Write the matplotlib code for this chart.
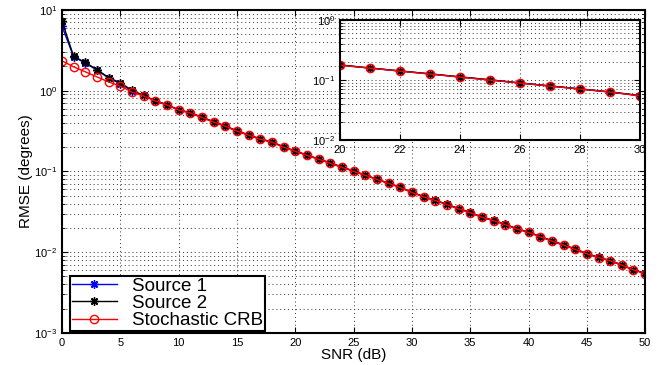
import matplotlib
matplotlib.use('Agg')
import matplotlib.pyplot as plt
import numpy as np

plt.rcParams['font.family'] = ['Liberation Sans', 'DejaVu Sans']

# data
snr = list(range(0, 51))
crb = [2.34, 1.97, 1.71, 1.48, 1.28, 1.14, 0.96, 0.859, 0.744, 0.664,
       0.575, 0.528, 0.466, 0.408, 0.363, 0.315, 0.281, 0.250, 0.230, 0.199,
       0.177, 0.158, 0.141, 0.126, 0.112, 0.100, 0.0892, 0.0795, 0.0709, 0.0632,
       0.0548, 0.0484, 0.0435, 0.0388, 0.0343, 0.0308, 0.0270, 0.0245, 0.0219, 0.0193,
       0.0175, 0.0155, 0.0137, 0.0122, 0.0108, 0.00953, 0.00857, 0.00780, 0.00689, 0.00602,
       0.00542]
source1 = [6.3, 2.63, 2.19, 1.80, 1.43, 1.22, 0.99, 0.87, 0.748, 0.668,
           0.578, 0.530, 0.468, 0.410, 0.364, 0.316, 0.282, 0.251, 0.231, 0.200,
           0.178, 0.159, 0.142, 0.127, 0.113, 0.101, 0.0895, 0.0798, 0.0712, 0.0635,
           0.0550, 0.0486, 0.0437, 0.0390, 0.0345, 0.0309, 0.0271, 0.0246, 0.0220, 0.0194,
           0.0176, 0.0156, 0.0138, 0.0123, 0.0109, 0.00957, 0.00860, 0.00783, 0.00691, 0.00604,
           0.00544]
source2 = [7.3, 2.66, 2.23, 1.82, 1.45, 1.25, 1.01, 0.87, 0.750, 0.667,
           0.580, 0.531, 0.469, 0.411, 0.365, 0.317, 0.283, 0.252, 0.232, 0.200,
           0.179, 0.159, 0.142, 0.127, 0.113, 0.101, 0.0898, 0.0800, 0.0713, 0.0636,
           0.0552, 0.0487, 0.0438, 0.0391, 0.0346, 0.0310, 0.0272, 0.0247, 0.0221, 0.0195,
           0.0177, 0.0156, 0.0138, 0.0123, 0.0109, 0.00960, 0.00862, 0.00785, 0.00693, 0.00605,
           0.00545]

# matlab style asterisk
STAR = (8, 2, 0)


def draw(ax):
    ax.semilogy(snr, source1, '-', marker=STAR, color='blue', lw=1.0, ms=6, mew=1.0,
                label='Source 1')
    ax.semilogy(snr, source2, '-', marker=STAR, color='black', lw=1.0, ms=6, mew=1.0,
                label='Source 2')
    ax.semilogy(snr, crb, '-o', color='red', lw=1.0, ms=6, mfc='none', mew=1.0,
                label='Stochastic CRB')
    ax.grid(True, which='both', linestyle=(0, (1, 3)), color='0.2', linewidth=0.7)
    ax.tick_params(which='both', direction='in', top=True, right=True, labelsize=8)
    ax.tick_params(which='major', length=4)
    ax.tick_params(which='minor', length=2)
    for sp in ax.spines.values():
        sp.set_linewidth(1.5)


fig = plt.figure(figsize=(6.59, 3.65), dpi=100)
ax = fig.add_axes([0.094, 0.088, 0.885, 0.885])
draw(ax)
ax.set_xlim(0, 50)
ax.set_ylim(1e-3, 1e1)
ax.set_xticks(range(0, 51, 5))
ax.set_xlabel('SNR (dB)', fontsize=11, labelpad=0)
ax.set_ylabel('RMSE (degrees)', fontsize=11, labelpad=1)
leg = ax.legend(loc='lower left', bbox_to_anchor=(0.01, 0.0), fontsize=13.5,
                fancybox=False, framealpha=1, edgecolor='black',
                borderpad=0.1, labelspacing=0.0, handlelength=2.4, handletextpad=0.8,
                borderaxespad=0.1)
leg.get_frame().set_linewidth(1.5)

ins = fig.add_axes([0.516, 0.616, 0.455, 0.329])
draw(ins)
ins.set_xlim(20, 30)
ins.set_ylim(1e-2, 1e0)
ins.set_xticks(range(20, 31, 2))
ins.set_facecolor('white')

fig.savefig('out.png', dpi=100)
